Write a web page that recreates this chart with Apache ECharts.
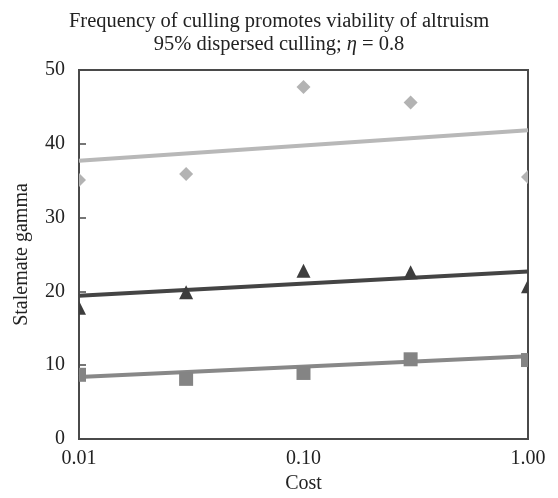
<!DOCTYPE html>
<html>
<head>
<meta charset="utf-8">
<script src="https://cdn.jsdelivr.net/npm/echarts@6/dist/echarts.min.js"></script>
<style>
html,body{margin:0;padding:0;background:#fff;}
#chart{width:558px;height:498px;}
</style>
</head>
<body>
<div id="chart"></div>
<script>
// Data
const costValues = [0.01, 0.03, 0.1, 0.3, 1.0];
const diamondValues = [35.1, 35.9, 47.7, 45.6, 35.5];
const triangleValues = [17.8, 19.9, 22.8, 22.6, 20.7];
const squareValues = [8.7, 8.15, 8.95, 10.8, 10.7];
const trendCost = [0.01, 1.0];
const diamondTrend = [37.7, 41.85];
const triangleTrend = [19.4, 22.7];
const squareTrend = [8.4, 11.2];
const xTickLabels = ['0.01', '0.10', '1.00'];
const yTicks = [0, 10, 20, 30, 40, 50];

const FONT = '"Liberation Serif", "Times New Roman", serif';
const cDiamond = '#b3b3b3';
const cTriangle = '#3d3d3d';
const cSquare = '#848484';

function pairs(xs, ys) { return xs.map((x, i) => [x, ys[i]]); }

function shapeSeries(name, values, color, kind, size) {
  return {
    name: name,
    type: 'custom',
    clip: true,
    z: 5,
    data: pairs(costValues, values),
    renderItem: function (params, api) {
      const p = api.coord([api.value(0), api.value(1)]);
      const h = size / 2;
      let pts;
      if (kind === 'diamond') {
        pts = [[p[0], p[1] - h], [p[0] + h, p[1]], [p[0], p[1] + h], [p[0] - h, p[1]]];
      } else if (kind === 'triangle') {
        pts = [[p[0], p[1] - h], [p[0] + h, p[1] + h], [p[0] - h, p[1] + h]];
      } else {
        pts = [[p[0] - h, p[1] - h], [p[0] + h, p[1] - h], [p[0] + h, p[1] + h], [p[0] - h, p[1] + h]];
      }
      return { type: 'polygon', shape: { points: pts }, style: { fill: color } };
    }
  };
}

function trendSeries(name, values, color, width) {
  return {
    name: name,
    type: 'line',
    data: pairs(trendCost, values),
    showSymbol: false,
    symbol: 'none',
    z: 3,
    lineStyle: { color: color, width: width },
    silent: true
  };
}

const titleRich = {
  t: { fontFamily: FONT, fontSize: 20.5, fontWeight: 'normal', color: '#222', lineHeight: 23 },
  i: { fontFamily: FONT, fontSize: 20.5, fontWeight: 'normal', fontStyle: 'italic', color: '#222', lineHeight: 23 }
};

const chart = echarts.init(document.getElementById('chart'));
chart.setOption({
  animation: false,
  backgroundColor: '#ffffff',
  title: {
    text: '{t|Frequency of culling promotes viability of altruism}\n{t|95% dispersed culling; }{i|η}{t| = 0.8}',
    left: 'center',
    top: 5,
    textStyle: {
      fontFamily: FONT,
      fontSize: 20.5,
      fontWeight: 'normal',
      color: '#222',
      lineHeight: 23,
      rich: titleRich
    }
  },
  grid: {
    left: 79, right: 30, top: 70, bottom: 59,
    outerBoundsMode: 'none',
    containLabel: false,
    show: true,
    borderColor: '#4a4a4a',
    borderWidth: 2,
    backgroundColor: 'transparent'
  },
  xAxis: {
    type: 'log',
    logBase: 10,
    min: 0.01,
    max: 1,
    name: 'Cost',
    nameLocation: 'middle',
    nameGap: 35,
    nameTextStyle: { fontFamily: FONT, fontSize: 20, color: '#222' },
    axisLine: { show: true, lineStyle: { color: '#4a4a4a', width: 2 } },
    axisTick: { show: false },
    splitLine: { show: false },
    minorTick: { show: false },
    axisLabel: {
      fontFamily: FONT, fontSize: 20, color: '#222', margin: 10,
      formatter: function (v) {
        const s = Number(v).toFixed(2);
        return xTickLabels.indexOf(s) >= 0 ? s : '';
      }
    }
  },
  yAxis: {
    type: 'value',
    min: yTicks[0],
    max: yTicks[yTicks.length - 1],
    interval: 10,
    name: 'Stalemate gamma',
    nameLocation: 'middle',
    nameGap: 47,
    nameTextStyle: { fontFamily: FONT, fontSize: 20, color: '#222' },
    axisLine: { show: true, lineStyle: { color: '#4a4a4a', width: 2 } },
    axisTick: { show: true, inside: true, length: 7, lineStyle: { color: '#4a4a4a', width: 1.5 } },
    splitLine: { show: false },
    axisLabel: { fontFamily: FONT, fontSize: 20, color: '#222', margin: 14 }
  },
  series: [
    trendSeries('Diamond trend', diamondTrend, '#b8b8b8', 4),
    trendSeries('Triangle trend', triangleTrend, '#444444', 4),
    trendSeries('Square trend', squareTrend, '#888888', 4),
    shapeSeries('Diamonds', diamondValues, cDiamond, 'diamond', 14),
    shapeSeries('Triangles', triangleValues, cTriangle, 'triangle', 14),
    shapeSeries('Squares', squareValues, cSquare, 'square', 14)
  ]
});
</script>
</body>
</html>
